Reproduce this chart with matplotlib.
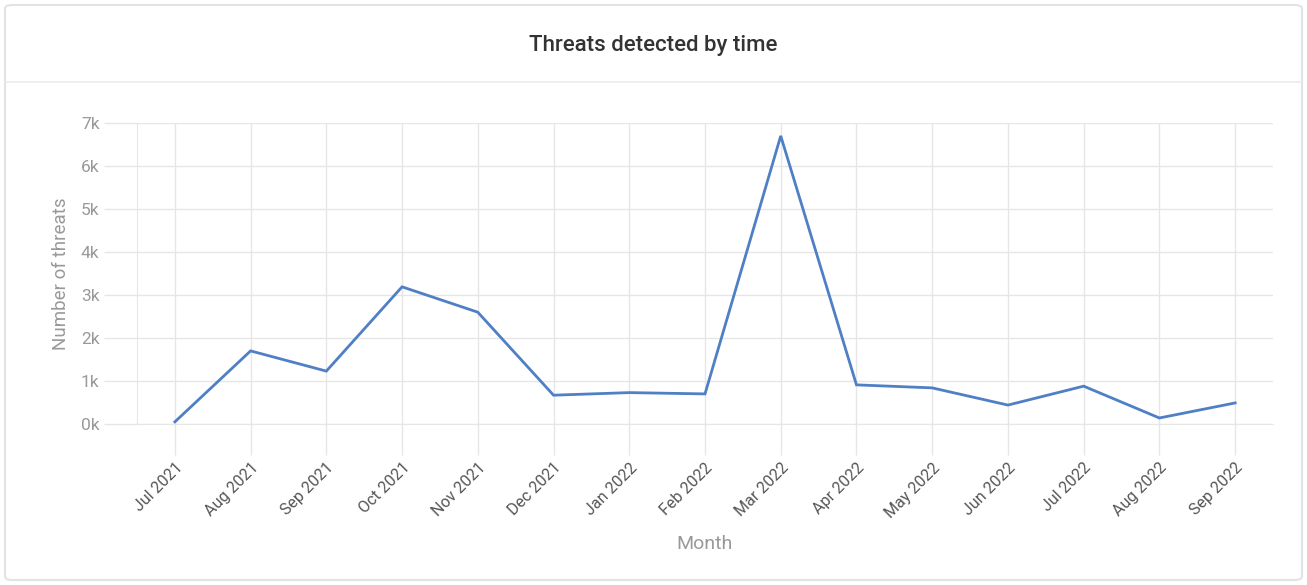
import matplotlib
matplotlib.use("Agg")
import matplotlib.pyplot as plt
from matplotlib.patches import FancyBboxPatch
from matplotlib.ticker import FuncFormatter

months = ["Jul 2021", "Aug 2021", "Sep 2021", "Oct 2021", "Nov 2021", "Dec 2021",
          "Jan 2022", "Feb 2022", "Mar 2022", "Apr 2022", "May 2022", "Jun 2022",
          "Jul 2022", "Aug 2022", "Sep 2022"]
threats = [50, 1700, 1230, 3190, 2600, 670, 730, 700, 6700, 910, 840, 440, 880, 140, 490]
y_ticks = [0, 1000, 2000, 3000, 4000, 5000, 6000, 7000]

plt.rcParams['font.family'] = ['Roboto', 'DejaVu Sans']

W, H = 1307, 585
fig = plt.figure(figsize=(W / 100, H / 100), dpi=100)
fig.patch.set_facecolor("white")

# card border
card = FancyBboxPatch((5 / W, 5 / H), (W - 10) / W, (H - 10) / H,
                      boxstyle="round,pad=0,rounding_size=0.006",
                      transform=fig.transFigure, facecolor="none",
                      edgecolor="#e3e3e3", linewidth=1.5, zorder=-5)
fig.patches.append(card)
# header separator
fig.add_artist(plt.Line2D([6 / W, (W - 6) / W], [1 - 82 / H, 1 - 82 / H],
                          transform=fig.transFigure, color="#ececec", linewidth=1.2))
fig.text(0.5, 1 - 45 / H, "Threats detected by time", ha="center", va="center",
         fontsize=16, color="#333333", fontweight="medium")

left, right, top, bottom = 137, 1273, 123, 424
ax = fig.add_axes([left / W, 1 - bottom / H, (right - left) / W, (bottom - top) / H])
ax.patch.set_alpha(0)
x = list(range(len(months)))
ax.plot(x, threats, color="#4f7fc4", linewidth=2.0, solid_joinstyle="miter", zorder=3)

ax.set_xlim(-0.5, len(months) - 0.5)
ax.set_ylim(0, 7000)
ax.set_yticks(y_ticks)
ax.yaxis.set_major_formatter(FuncFormatter(lambda v, p: f"{int(v / 1000)}k"))
ax.set_xticks(x)
ax.set_xticklabels(months, rotation=45, ha="right", rotation_mode="anchor",
                   fontsize=11.5, color="#555555")
ax.tick_params(axis="y", length=24, width=1, color="#e6e6e6", labelsize=12.5,
               labelcolor="#999999", pad=3)
ax.tick_params(axis="x", length=22, width=1, color="#e6e6e6", pad=4)
ax.grid(True, color="#e6e6e6", linewidth=1)
ax.set_axisbelow(True)
for s in ["top", "right"]:
    ax.spines[s].set_visible(False)
ax.spines["left"].set_color("#e6e6e6")
ax.spines["bottom"].set_color("#e6e6e6")

ax.set_ylabel("Number of threats", fontsize=13.5, color="#999999", labelpad=8)
fig.text(704 / W, 1 - 544 / H, "Month", ha="center", va="center",
         fontsize=14, color="#999999")

fig.savefig("out.png", dpi=100)
